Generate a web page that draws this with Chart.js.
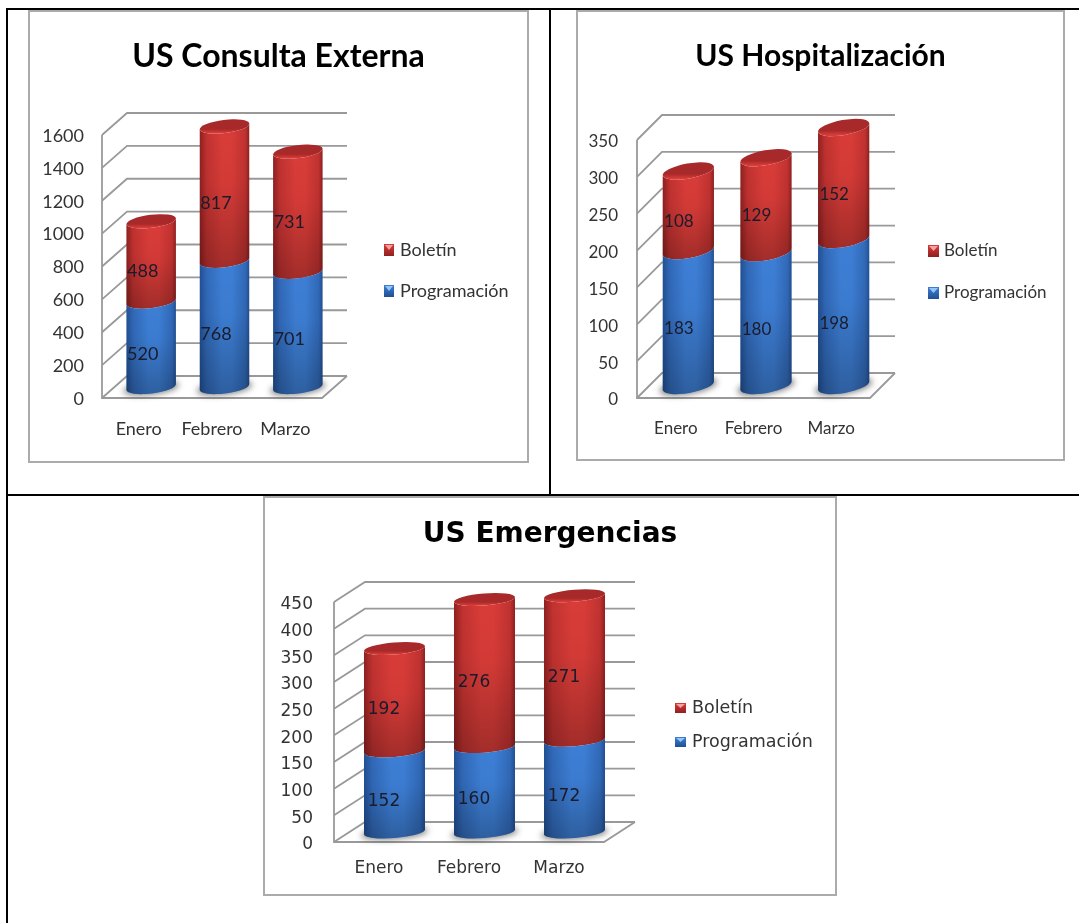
<!DOCTYPE html>
<html>
<head>
<meta charset="utf-8">
<title>US Boletín y Programación</title>
<script src="https://cdn.jsdelivr.net/npm/chart.js@4"></script>
<style>
    html, body { margin: 0; padding: 0; background: #fff; overflow: hidden; }
    body { width: 1079px; height: 923px; position: relative; }
    .rule { position: absolute; background: #000; }
    canvas { position: absolute; }
    .box { position: absolute; border: 2px solid #ababab; box-sizing: border-box; }
</style>
</head>
<body>
<div class="rule" style="left:6px;top:8px;width:1073px;height:2px"></div>
<div class="rule" style="left:6px;top:8px;width:2px;height:915px"></div>
<div class="rule" style="left:549px;top:8px;width:2px;height:487px"></div>
<div class="rule" style="left:6px;top:494px;width:1073px;height:2px"></div>

<script>
const months = ['Enero', 'Febrero', 'Marzo'];

const consultaProgramacion = [520, 768, 701];
const consultaBoletin = [488, 817, 731];
const hospitalProgramacion = [183, 180, 198];
const hospitalBoletin = [108, 129, 152];
const emergenciaProgramacion = [152, 160, 172];
const emergenciaBoletin = [192, 276, 271];

const redShades = { edge: '#8f2020', soft: '#c03230', mid: '#d93c38', cap: '#a82929', glint: '#f3a3a0' };
const blueShades = { edge: '#214f93', soft: '#3169b8', mid: '#3d7fd6', cap: '#2f66b0', glint: '#93c6f2' };

// cylinder with a tilted elliptical base, shifted half way into the floor depth
class CylinderController extends Chart.BarController {
    draw() {
        const chart = this.chart;
        const ctx = chart.ctx;
        const cyl = chart.config.options.cyl;
        const shades = this.getDataset().shades;
        const isTop = this.index === chart.data.datasets.length - 1;
        const isBottom = this.index === 0;
        const tilt = cyl.tilt * Math.PI / 180;

        this.getMeta().data.forEach(bar => {
            const cx = bar.x + cyl.dx / 2;
            const rx = bar.width / 2;
            const yTop = bar.y - cyl.dy / 2;
            const yBase = bar.base - cyl.dy / 2;

            ctx.save();
            if (isBottom) {
                ctx.save();
                ctx.filter = 'blur(3px)';
                ctx.fillStyle = 'rgba(40,40,40,0.6)';
                ctx.beginPath();
                ctx.ellipse(cx, yBase + 1, rx + 3, cyl.ry, tilt, 0, Math.PI * 2);
                ctx.fill();
                ctx.restore();
            }

            const dxEdge = rx * Math.cos(tilt);
            const g = ctx.createLinearGradient(cx - dxEdge, 0, cx + dxEdge, 0);
            g.addColorStop(0, shades.edge);
            g.addColorStop(0.14, shades.soft);
            g.addColorStop(0.45, shades.mid);
            g.addColorStop(0.65, shades.mid);
            g.addColorStop(0.92, shades.soft);
            g.addColorStop(1, shades.edge);

            ctx.beginPath();
            ctx.ellipse(cx, yBase, rx, cyl.ry, tilt, 0, Math.PI);
            ctx.ellipse(cx, yTop, rx, cyl.ry, tilt, Math.PI, 0, true);
            ctx.closePath();
            ctx.fillStyle = g;
            ctx.fill();

            // segment gets a bit darker towards its lower end
            const v = ctx.createLinearGradient(0, yTop, 0, yBase + cyl.ry);
            v.addColorStop(0, 'rgba(0,0,0,0)');
            v.addColorStop(0.4, 'rgba(0,0,0,0.03)');
            v.addColorStop(1, 'rgba(0,0,0,0.25)');
            ctx.fillStyle = v;
            ctx.fill();

            if (isTop) {
                const c = ctx.createLinearGradient(0, yTop - cyl.ry, 0, yTop + cyl.ry);
                c.addColorStop(0, shades.cap);
                c.addColorStop(0.7, shades.cap);
                c.addColorStop(1, shades.mid);
                ctx.beginPath();
                ctx.ellipse(cx, yTop, rx, cyl.ry, tilt, 0, Math.PI * 2);
                ctx.fillStyle = c;
                ctx.fill();
            }
            ctx.restore();
        });
    }
}
CylinderController.id = 'cylinder';
CylinderController.defaults = Chart.BarController.defaults;
Chart.register(CylinderController);

const wallPlugin = {
    id: 'wall',
    afterLayout(chart) {
        // title stays centred on the whole panel, not just the plot side
        chart.titleBlock.left = 0;
        chart.titleBlock.right = chart.width;
    },
    beforeDatasetsDraw(chart) {
        const { ctx, chartArea: area, scales: { y } } = chart;
        const { dx, dy } = chart.config.options.cyl;
        ctx.save();
        ctx.strokeStyle = '#999';
        ctx.lineWidth = 1.8;
        ctx.beginPath();
        ctx.moveTo(area.left, y.getPixelForValue(y.max));
        ctx.lineTo(area.left, y.getPixelForValue(0));
        ctx.lineTo(area.right, y.getPixelForValue(0));
        ctx.lineTo(area.right + dx, y.getPixelForValue(0) - dy);
        y.ticks.forEach(t => {
            const py = y.getPixelForValue(t.value);
            ctx.moveTo(area.left, py);
            ctx.lineTo(area.left + dx, py - dy);
            ctx.lineTo(area.right + dx, py - dy);
        });
        ctx.stroke();
        ctx.restore();
    },
    afterDatasetsDraw(chart) {
        const { ctx } = chart;
        const { label: lab, legend: leg } = chart.config.options.cyl;

        // value labels sit in the middle of each stacked segment
        ctx.save();
        ctx.font = lab.font;
        ctx.fillStyle = '#1b1b2b';
        ctx.textAlign = 'center';
        ctx.textBaseline = 'middle';
        chart.data.datasets.forEach((ds, i) => {
            chart.getDatasetMeta(i).data.forEach((bar, j) => {
                ctx.fillText(ds.data[j], bar.x + lab.shift, (bar.y + bar.base) / 2 + lab.lift);
            });
        });

        // legend lists the top segment first
        ctx.font = leg.font;
        ctx.textAlign = 'left';
        [...chart.data.datasets].reverse().forEach((ds, i) => {
            const y = leg.rows[i];
            const s = ds.shades;
            const x0 = leg.x, w = leg.w, h = leg.h;
            const y0 = y - h / 2;
            const g = ctx.createLinearGradient(0, y0, 0, y0 + h);
            g.addColorStop(0, s.mid);
            g.addColorStop(1, s.edge);
            ctx.fillStyle = g;
            ctx.fillRect(x0, y0, w, h);
            ctx.fillStyle = s.glint;
            ctx.beginPath();
            ctx.moveTo(x0 + 1, y0 + 1);
            ctx.lineTo(x0 + w - 1, y0 + 1);
            ctx.lineTo(x0 + w / 2, y0 + h * 0.5);
            ctx.closePath();
            ctx.fill();
            ctx.fillStyle = '#333';
            ctx.fillText(ds.label, leg.text, y);
        });
        ctx.restore();
    }
};

function addPanel(p) {
    const frame = document.createElement('div');
    frame.className = 'box';
    frame.style.cssText = `left:${p.box.x}px;top:${p.box.y}px;width:${p.box.w}px;height:${p.box.h}px`;
    document.body.appendChild(frame);

    const canvas = document.createElement('canvas');
    canvas.width = p.box.w;
    canvas.height = p.box.h;
    canvas.style.left = p.box.x + 'px';
    canvas.style.top = p.box.y + 'px';
    document.body.appendChild(canvas);

    const titleH = p.titleSize * 1.2;
    const titleTop = p.titleY - p.box.y - titleH / 2;
    const plotLeft = p.plot.left - p.box.x;
    const plotTop = p.plot.top - p.box.y;
    const plotBottom = p.plot.bottom - p.box.y;

    new Chart(canvas, {
        type: 'cylinder',
        data: {
            labels: months,
            datasets: [
                { label: 'Programación', data: p.programacion, shades: blueShades, backgroundColor: blueShades.mid, clip: false },
                { label: 'Boletín', data: p.boletin, shades: redShades, backgroundColor: redShades.mid, clip: false }
            ]
        },
        options: {
            responsive: false,
            animation: false,
            cyl: {
                dx: p.dx, dy: p.dy, ry: p.ry, tilt: p.tilt,
                label: { font: p.labelFont, shift: p.labelShift, lift: p.labelLift },
                legend: {
                    font: p.legendFont,
                    x: p.legend.x - p.box.x,
                    text: p.legend.text - p.box.x,
                    rows: p.legend.rows.map(v => v - p.box.y),
                    w: p.legend.w,
                    h: p.legend.h
                }
            },
            layout: {
                autoPadding: false,
                padding: { left: 0, top: 0, bottom: 0, right: p.box.w - (p.plot.right - p.box.x) }
            },
            datasets: { cylinder: { barPercentage: p.barPercentage, categoryPercentage: 1 } },
            plugins: {
                legend: { display: false },
                tooltip: { enabled: false },
                title: {
                    display: true,
                    text: p.title,
                    color: '#000',
                    font: { family: p.family, size: p.titleSize, weight: 'bold' },
                    padding: { top: titleTop, bottom: plotTop - titleTop - titleH }
                }
            },
            scales: {
                x: {
                    stacked: true,
                    grid: { display: false },
                    border: { display: false },
                    ticks: { color: '#333', font: { family: p.family, size: p.tickSize }, padding: p.xPad, maxRotation: 0, autoSkip: false },
                    afterFit(s) { s.height = p.box.h - plotBottom; }
                },
                y: {
                    stacked: true,
                    min: 0,
                    max: p.max,
                    grid: { display: false },
                    border: { display: false },
                    ticks: {
                        stepSize: p.step,
                        color: '#333',
                        font: { family: p.family, size: p.tickSize },
                        padding: p.yPad,
                        labelOffset: p.yLabelOffset,
                        format: { useGrouping: false }
                    },
                    afterFit(s) { s.width = plotLeft; }
                }
            }
        },
        plugins: [wallPlugin]
    });
}

addPanel({
    title: 'US Consulta Externa', family: 'Lato', titleSize: 32, titleY: 57,
    box: { x: 28, y: 10, w: 501, h: 453 },
    plot: { left: 102, top: 135, right: 322, bottom: 398 },
    dx: 25, dy: 22, ry: 6.5, tilt: -7, barPercentage: 0.68,
    max: 1600, step: 200, tickSize: 18, xPad: 12, yPad: 10, yLabelOffset: 1,
    labelFont: '18px Lato', labelShift: 4, labelLift: -1,
    legendFont: '18px Lato', legend: { x: 384, text: 400, rows: [250, 291], w: 10, h: 12 },
    programacion: consultaProgramacion, boletin: consultaBoletin
});

addPanel({
    title: 'US Hospitalización', family: 'Lato', titleSize: 30, titleY: 56,
    box: { x: 576, y: 10, w: 489, h: 451 },
    plot: { left: 637, top: 140, right: 870, bottom: 398 },
    dx: 25, dy: 25, ry: 7.5, tilt: -10, barPercentage: 0.67,
    max: 350, step: 50, tickSize: 17, xPad: 12, yPad: 11, yLabelOffset: 2,
    labelFont: '17px Lato', labelShift: 3, labelLift: -2,
    legendFont: '17px Lato', legend: { x: 928, text: 944, rows: [251, 293], w: 11, h: 12 },
    programacion: hospitalProgramacion, boletin: hospitalBoletin
});

addPanel({
    title: 'US Emergencias', family: 'DejaVu Sans', titleSize: 28, titleY: 535,
    box: { x: 263, y: 496, w: 574, h: 400 },
    plot: { left: 334, top: 602, right: 604, bottom: 842 },
    dx: 31, dy: 20, ry: 6, tilt: -4.5, barPercentage: 0.68,
    max: 450, step: 50, tickSize: 17, xPad: 8, yPad: 13, yLabelOffset: 3,
    labelFont: '17px "DejaVu Sans"', labelShift: 5, labelLift: 0,
    legendFont: '17.5px "DejaVu Sans"', legend: { x: 675, text: 692, rows: [708, 742], w: 11, h: 10 },
    programacion: emergenciaProgramacion, boletin: emergenciaBoletin
});
</script>
</body>
</html>
